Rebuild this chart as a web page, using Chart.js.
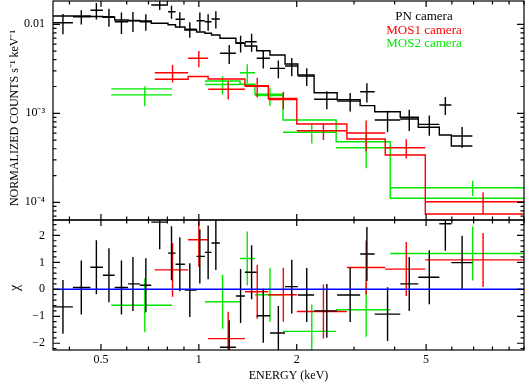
<!DOCTYPE html>
<html>
<head>
<meta charset="utf-8">
<script src="https://cdn.jsdelivr.net/npm/chart.js@4.4.0/dist/chart.umd.min.js"></script>
<style>
  html, body { margin: 0; padding: 0; background: #fff; }
  #wrap { position: relative; width: 525px; height: 383px; }
  #spec { position: absolute; left: 0; top: 0; }
  #resid { position: absolute; left: 0; top: 219px; }
</style>
</head>
<body>
<div id="wrap">
  <canvas id="spec" width="525" height="221"></canvas>
  <canvas id="resid" width="525" height="164"></canvas>
</div>
<script>
// PN camera (black) - bin centre, bin edges (keV), rate, 1-sigma, model, residual
const pnE     = [0.382, 0.435, 0.484, 0.529, 0.578, 0.627, 0.687, 0.758, 0.824, 0.874, 0.938, 1.007, 1.068, 1.128, 1.240, 1.344, 1.453, 1.578, 1.756, 1.931, 2.147, 2.475, 2.920, 3.287, 3.805, 4.437, 5.114, 5.729, 6.451];
const pnELo   = [0.356, 0.410, 0.464, 0.507, 0.551, 0.606, 0.658, 0.714, 0.804, 0.848, 0.906, 0.984, 1.044, 1.094, 1.161, 1.300, 1.386, 1.506, 1.655, 1.841, 2.015, 2.262, 2.663, 3.134, 3.474, 4.163, 4.730, 5.490, 5.978];
const pnEHi   = [0.410, 0.464, 0.507, 0.551, 0.606, 0.658, 0.714, 0.804, 0.848, 0.906, 0.984, 1.044, 1.094, 1.161, 1.300, 1.386, 1.506, 1.655, 1.841, 2.015, 2.262, 2.663, 3.134, 3.474, 4.163, 4.730, 5.490, 5.978, 6.938];
const pnRate  = [0.01042, 0.01217, 0.01436, 0.01217, 0.0107, 0.01098, 0.0107, 0.01648, 0.01386, 0.01138, 0.00879, 0.01098, 0.0107, 0.01147, 0.00472, 0.00612, 0.00637, 0.00415, 0.0032, 0.0034, 0.00262, 0.00144, 0.00137, 0.00175, 0.000841, 0.000863, 0.000752, 0.00124, 0.000556];
const pnErr   = [0.00267, 0.00223, 0.00302, 0.00278, 0.0029, 0.0028, 0.00225, 0.002, 0.0023, 0.00227, 0.00174, 0.0026, 0.00225, 0.0025, 0.00114, 0.00131, 0.00144, 0.00097, 0.00072, 0.00079, 0.00059, 0.00033, 0.00032, 0.00043, 0.000225, 0.00023, 0.000194, 0.00028, 0.000146];
const pnModel = [0.0124, 0.0124, 0.01223, 0.01198, 0.01118, 0.01103, 0.01089, 0.01026, 0.0099, 0.00933, 0.00863, 0.00819, 0.00792, 0.00758, 0.00696, 0.00617, 0.0057, 0.00505, 0.00452, 0.00358, 0.00269, 0.0017, 0.00142, 0.00122, 0.00104, 0.000902, 0.000696, 0.00057, 0.000429];
const pnChi   = [-0.65, 0.07, 0.82, 0.52, 0.07, 0.2, 0.15, 2.49, 1.34, 0.93, -0.03, 1.22, 1.37, 1.72, -2.15, -0.25, 0.63, -0.98, -1.62, 0.1, -0.21, -0.8, -0.21, 1.31, -0.92, 0.2, 0.45, 2.43, 0.99];

// MOS1 camera (red)
const m1E     = [0.830, 1.000, 1.231, 1.512, 1.819, 2.416, 3.270, 4.344, 7.483];
const m1ELo   = [0.732, 0.927, 1.068, 1.386, 1.635, 2.001, 2.853, 3.743, 4.971];
const m1EHi   = [0.927, 1.068, 1.386, 1.635, 2.001, 2.853, 3.743, 4.971, 10.0];
const m1Rate  = [0.00286, 0.00415, 0.00186, 0.00201, 0.00143, 0.000637, 0.000601, 0.000411, 0.0001016];
const m1Err   = [0.00064, 0.00086, 0.00043, 0.0005, 0.00032, 0.000136, 0.000227, 0.0001, 0.000028];
const m1Model = [0.00241, 0.00259, 0.00243, 0.00204, 0.00147, 0.000758, 0.000514, 0.00034, 0.0000739];
const m1Chi   = [0.72, 1.84, -1.83, -0.09, -0.2, -0.82, 0.81, 0.75, 1.09];

// MOS2 camera (green)
const m2E     = [0.682, 1.183, 1.409, 1.655, 2.225, 3.270, 6.950];
const m2ELo   = [0.538, 1.044, 1.338, 1.488, 1.815, 2.644, 3.878];
const m2EHi   = [0.827, 1.338, 1.488, 1.815, 2.644, 3.878, 10.0];
const m2Rate  = [0.00161, 0.00211, 0.00286, 0.00158, 0.000612, 0.000411, 0.000146];
const m2Err   = [0.00041, 0.00049, 0.0007, 0.000375, 0.000153, 0.00017, 0.0000285];
const m2Model = [0.00188, 0.00231, 0.00212, 0.00164, 0.000841, 0.00048, 0.000111];
const m2Chi   = [-0.59, -0.46, 1.14, -0.2, -1.56, -0.76, 1.33];

// axes
const energyRange = [0.356, 10];
const rateRange   = [6.33e-5, 0.01827];
const chiRange    = [-2.25, 2.57];
const energyTicks = [0.5, 1, 2, 5];
const rateTicks   = [1e-4, 1e-3, 1e-2];
const rateLabels  = ['10\u207B\u2074', '10\u207B\u00B3', '0.01'];
const chiTicks    = [-2, -1, 0, 1, 2];

const serif = "'Liberation Serif', 'Times New Roman', serif";
const RED = '#ff0000';
const GREEN = '#00e800';
const BLUE = '#0000ff';

Chart.defaults.color = '#000';
Chart.defaults.font.family = serif;
Chart.defaults.font.size = 12;

// histogram step of the folded model over the data bins
function binSteps(lo, hi, val) {
    const pts = [];
    for (let i = 0; i < val.length; i++) {
        if (i > 0 && Math.abs(lo[i] - hi[i - 1]) > 1e-6) pts.push({x: lo[i], y: null});
        pts.push({x: lo[i], y: val[i]}, {x: hi[i], y: val[i]});
    }
    return pts;
}

// error crosses: horizontal = bin width, vertical = +-err
function crosses(x, lo, hi, y, err) {
    const pts = [];
    for (let i = 0; i < x.length; i++) {
        const e = Array.isArray(err) ? err[i] : err;
        pts.push({x: lo[i], y: y[i]}, {x: hi[i], y: y[i]}, {x: x[i], y: null});
        pts.push({x: x[i], y: y[i] - e}, {x: x[i], y: y[i] + e}, {x: x[i], y: null});
    }
    return pts;
}

function line(data, color, width) {
    return {data, showLine: true, borderColor: color, backgroundColor: color,
            borderWidth: width, pointRadius: 0, tension: 0, fill: false};
}

// tick marks on every side (decades + sub-decades, or fixed steps)
function logMarks(range, labelled) {
    const out = [];
    for (let d = Math.floor(Math.log10(range[0])); d <= Math.ceil(Math.log10(range[1])); d++) {
        for (let k = 1; k < 10; k++) {
            const v = k * Math.pow(10, d);
            if (v >= range[0] && v <= range[1]) out.push({v, major: labelled(v)});
        }
    }
    return out;
}
function linMarks(range, step) {
    const out = [];
    for (let v = Math.ceil(range[0] / step) * step; v <= range[1] + 1e-9; v += step) {
        const r = Math.round(v * 10) / 10;
        out.push({v: r, major: Math.abs(r - Math.round(r)) < 1e-6});
    }
    return out;
}
const isLabelledE = v => energyTicks.some(t => Math.abs(t - v) < 1e-9);
const isDecade = v => Math.abs(Math.log10(v) - Math.round(Math.log10(v))) < 1e-9;

// fixed axis box, no extra label padding so the plot area stays put
function fixWidth(w) {
    return s => { s.width = w; s.paddingTop = 0; s.paddingBottom = 0; };
}
function fixHeight(h) {
    return s => { s.height = h; s.paddingLeft = 0; s.paddingRight = 0; };
}

const framePlugin = {
    id: 'frame',
    afterDatasetsDraw(chart, args, opts) {
        const {ctx, chartArea: a, scales} = chart;
        ctx.save();
        ctx.strokeStyle = '#000';
        ctx.lineWidth = 1.2;
        ctx.beginPath();
        for (const t of opts.xMarks) {
            const px = scales.x.getPixelForValue(t.v);
            const len = t.major ? 6 : 3.5;
            ctx.moveTo(px, a.bottom); ctx.lineTo(px, a.bottom - len);
            ctx.moveTo(px, a.top); ctx.lineTo(px, a.top + len);
        }
        for (const t of opts.yMarks) {
            const py = scales.y.getPixelForValue(t.v);
            const len = t.major ? 7 : 3.5;
            ctx.moveTo(a.left, py); ctx.lineTo(a.left + len, py);
            ctx.moveTo(a.right, py); ctx.lineTo(a.right - len, py);
        }
        ctx.stroke();
        ctx.strokeRect(a.left, a.top, a.width, a.height);
        for (const s of opts.texts) {
            ctx.save();
            ctx.translate(s.x, s.y);
            if (s.rot) ctx.rotate(s.rot * Math.PI / 180);
            ctx.font = s.size + 'px ' + serif;
            ctx.fillStyle = s.color;
            ctx.textAlign = 'center';
            ctx.textBaseline = 'middle';
            ctx.fillText(s.t, 0, 0);
            ctx.restore();
        }
        ctx.restore();
    }
};

const energyMarks = logMarks(energyRange, isLabelledE);

// upper panel: spectrum
new Chart(document.getElementById('spec'), {
    type: 'scatter',
    data: {
        datasets: [
            line(binSteps(pnELo, pnEHi, pnModel), '#000', 1.4),
            line(crosses(pnE, pnELo, pnEHi, pnRate, pnErr), '#000', 1.4),
            line(binSteps(m1ELo, m1EHi, m1Model), RED, 1.4),
            line(crosses(m1E, m1ELo, m1EHi, m1Rate, m1Err), RED, 1.4),
            line(binSteps(m2ELo, m2EHi, m2Model), GREEN, 1.4),
            line(crosses(m2E, m2ELo, m2EHi, m2Rate, m2Err), GREEN, 1.4)
        ]
    },
    options: {
        responsive: false,
        devicePixelRatio: 1,
        animation: false,
        events: [],
        layout: {padding: {top: 1, bottom: 1, left: 0, right: 1}},
        plugins: {
            legend: {display: false},
            tooltip: {enabled: false},
            frame: {
                xMarks: energyMarks,
                yMarks: logMarks(rateRange, isDecade),
                texts: [
                    {t: 'NORMALIZED COUNTS s\u207B\u00B9 keV\u207B\u00B9', x: 15, y: 118, rot: -90, size: 12, color: '#000'},
                    {t: 'PN camera', x: 424, y: 16.5, size: 13, color: '#000'},
                    {t: 'MOS1 camera', x: 424, y: 30.5, size: 13, color: RED},
                    {t: 'MOS2 camera', x: 424, y: 43.5, size: 13, color: GREEN}
                ]
            }
        },
        scales: {
            x: {type: 'logarithmic', min: energyRange[0], max: energyRange[1], display: false},
            y: {
                type: 'logarithmic', min: rateRange[0], max: rateRange[1],
                grid: {display: false, drawTicks: false},
                border: {display: false},
                afterFit: fixWidth(53),
                afterBuildTicks: s => { s.ticks = rateTicks.map(v => ({value: v})); },
                ticks: {
                    padding: 8, autoSkip: false,
                    callback: (v) => rateLabels[rateTicks.indexOf(v)]
                }
            }
        }
    },
    plugins: [framePlugin]
});

// lower panel: residuals in sigma
const zeroLine = [{x: energyRange[0], y: 0}, {x: energyRange[1], y: 0}];

new Chart(document.getElementById('resid'), {
    type: 'scatter',
    data: {
        datasets: [
            line(zeroLine, BLUE, 1.4),
            line(crosses(pnE, pnELo, pnEHi, pnChi, 1), '#000', 1.4),
            line(crosses(m1E, m1ELo, m1EHi, m1Chi, 1), RED, 1.4),
            line(crosses(m2E, m2ELo, m2EHi, m2Chi, 1), GREEN, 1.4)
        ]
    },
    options: {
        responsive: false,
        devicePixelRatio: 1,
        animation: false,
        events: [],
        layout: {padding: {top: 1, bottom: 0, left: 0, right: 1}},
        plugins: {
            legend: {display: false},
            tooltip: {enabled: false},
            frame: {
                xMarks: energyMarks,
                yMarks: linMarks(chiRange, 0.2),
                texts: [
                    {t: '\u03C7', x: 15, y: 69, rot: -90, size: 14, color: '#000'},
                    {t: 'ENERGY (keV)', x: 288.5, y: 156.5, size: 12, color: '#000'}
                ]
            }
        },
        scales: {
            x: {
                type: 'logarithmic', min: energyRange[0], max: energyRange[1],
                grid: {display: false, drawTicks: false},
                border: {display: false},
                afterFit: fixHeight(33),
                afterBuildTicks: s => { s.ticks = energyTicks.map(v => ({value: v})); },
                ticks: {padding: 3, autoSkip: false, maxRotation: 0, callback: v => String(v)}
            },
            y: {
                type: 'linear', min: chiRange[0], max: chiRange[1],
                grid: {display: false, drawTicks: false},
                border: {display: false},
                afterFit: fixWidth(53),
                afterBuildTicks: s => { s.ticks = chiTicks.map(v => ({value: v})); },
                ticks: {padding: 8, autoSkip: false, callback: v => (v < 0 ? '\u2212' + Math.abs(v) : String(v))}
            }
        }
    },
    plugins: [framePlugin]
});
</script>
</body>
</html>
